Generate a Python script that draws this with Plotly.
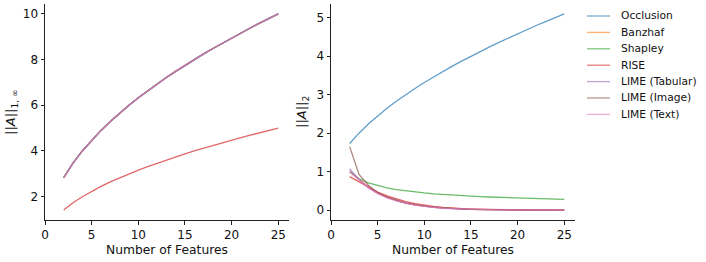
import plotly.graph_objects as go

features = list(range(2, 26))

methods = ["Occlusion", "Banzhaf", "Shapley", "RISE", "LIME (Tabular)", "LIME (Image)", "LIME (Text)"]
colors = ["#1f77b4", "#ff7f0e", "#2ca02c", "#d62728", "#9467bd", "#8c564b", "#e377c2"]

# left panel: ||A||_{1,inf}
upper_norm = [2.828, 3.464, 4.0, 4.472, 4.899, 5.292, 5.657, 6.0, 6.325, 6.633, 6.928, 7.211,
              7.483, 7.746, 8.0, 8.246, 8.485, 8.718, 8.944, 9.165, 9.381, 9.592, 9.798, 10.0]
rise_norm_inf = [1.414, 1.732, 2.0, 2.236, 2.449, 2.646, 2.828, 3.0, 3.162, 3.317, 3.464, 3.606,
                 3.742, 3.873, 4.0, 4.123, 4.243, 4.359, 4.472, 4.583, 4.690, 4.796, 4.899, 5.0]
left_values = {
    "Occlusion": upper_norm,
    "Banzhaf": upper_norm,
    "Shapley": upper_norm,
    "RISE": rise_norm_inf,
    "LIME (Tabular)": upper_norm,
    "LIME (Image)": upper_norm,
    "LIME (Text)": upper_norm,
}
# drawing order (bottom to top) for the overlapping lines of the left panel
left_draw_order = ["LIME (Image)", "Occlusion", "Banzhaf", "Shapley", "RISE", "LIME (Tabular)", "LIME (Text)"]

# right panel: ||A||_2
occlusion_l2 = [1.732, 2.0, 2.236, 2.449, 2.646, 2.828, 3.0, 3.162, 3.317, 3.464, 3.606, 3.742,
                3.873, 4.0, 4.123, 4.243, 4.359, 4.472, 4.583, 4.690, 4.796, 4.899, 5.0, 5.099]
banzhaf_l2 = [1.0, 0.79, 0.6, 0.45, 0.34, 0.25, 0.19, 0.14, 0.105, 0.078, 0.058, 0.043,
              0.032, 0.024, 0.018, 0.013, 0.01, 0.007, 0.005, 0.004, 0.003, 0.002, 0.002, 0.001]
shapley_l2 = [1.0, 0.816, 0.707, 0.632, 0.577, 0.535, 0.5, 0.471, 0.447, 0.426, 0.408, 0.392,
              0.378, 0.365, 0.354, 0.343, 0.333, 0.324, 0.316, 0.309, 0.302, 0.295, 0.289, 0.283]
rise_l2 = [0.87, 0.74, 0.60, 0.47, 0.37, 0.29, 0.22, 0.17, 0.13, 0.10, 0.075, 0.055,
           0.04, 0.03, 0.022, 0.016, 0.012, 0.009, 0.007, 0.005, 0.004, 0.003, 0.002, 0.002]
lime_tab_l2 = [1.07, 0.80, 0.59, 0.44, 0.33, 0.25, 0.18, 0.14, 0.10, 0.075, 0.055, 0.04,
               0.03, 0.022, 0.016, 0.012, 0.009, 0.006, 0.005, 0.003, 0.002, 0.002, 0.001, 0.001]
lime_img_l2 = [1.65, 0.93, 0.65, 0.46, 0.34, 0.26, 0.19, 0.14, 0.105, 0.08, 0.06, 0.04,
               0.03, 0.022, 0.016, 0.012, 0.009, 0.006, 0.005, 0.003, 0.002, 0.002, 0.001, 0.001]
lime_txt_l2 = [1.00, 0.78, 0.58, 0.43, 0.32, 0.24, 0.18, 0.13, 0.10, 0.07, 0.05, 0.04,
               0.03, 0.02, 0.015, 0.01, 0.008, 0.006, 0.004, 0.003, 0.002, 0.002, 0.001, 0.001]
right_values = {
    "Occlusion": occlusion_l2,
    "Banzhaf": banzhaf_l2,
    "Shapley": shapley_l2,
    "RISE": rise_l2,
    "LIME (Tabular)": lime_tab_l2,
    "LIME (Image)": lime_img_l2,
    "LIME (Text)": lime_txt_l2,
}

x_ticks = [0, 5, 10, 15, 20, 25]
left_y_ticks = [2, 4, 6, 8, 10]
right_y_ticks = [0, 1, 2, 3, 4, 5]

FONT = "DejaVu Sans"
W, H = 706, 262
ALPHA = 0.7
LEG_ALPHA = 0.6
LW = 1.3
color_of = dict(zip(methods, colors))

fig = go.Figure()
for m in left_draw_order:
    fig.add_trace(go.Scatter(x=features, y=left_values[m], mode="lines", name=m,
                             line=dict(color=color_of[m], width=LW), opacity=ALPHA,
                             xaxis="x", yaxis="y", showlegend=False))
for m in methods:
    fig.add_trace(go.Scatter(x=features, y=right_values[m], mode="lines", name=m,
                             line=dict(color=color_of[m], width=LW), opacity=ALPHA,
                             xaxis="x2", yaxis="y2", showlegend=False))


def px_x(p):
    return p / W


def px_y(p):
    return (H - p) / H


axis_common = dict(showgrid=False, zeroline=False, showline=True, linecolor="#222",
                   linewidth=1, ticks="outside", ticklen=3.5, tickwidth=1, tickcolor="#222",
                   tickfont=dict(family=FONT, size=12, color="#111"), mirror=False,
                   automargin=False)

fig.update_layout(
    width=W, height=H,
    margin=dict(l=0, r=0, t=0, b=0),
    paper_bgcolor="white", plot_bgcolor="white",
    font=dict(family=FONT, color="#111"),
    showlegend=False,
    xaxis=dict(domain=[px_x(45), px_x(289)], range=[0, 26.15], tickvals=x_ticks,
               anchor="y", **axis_common),
    yaxis=dict(domain=[px_y(220), px_y(4)], range=[0.98, 10.43], tickvals=left_y_ticks,
               anchor="x", **axis_common),
    xaxis2=dict(domain=[px_x(331), px_x(575)], range=[0, 26.15], tickvals=x_ticks,
                anchor="y2", **axis_common),
    yaxis2=dict(domain=[px_y(220), px_y(4)], range=[-0.255, 5.355], tickvals=right_y_ticks,
                anchor="x2", **axis_common),
)

# axis titles as annotations
titles = [
    dict(text="Number of Features", x=px_x(167), y=px_y(250), textangle=0, size=12.3),
    dict(text="Number of Features", x=px_x(453), y=px_y(250), textangle=0, size=12.3),
    dict(text="||<i>A</i>||<sub>1, ∞</sub>", x=px_x(11), y=px_y(112), textangle=-90, size=13),
    dict(text="||<i>A</i>||<sub>2</sub>", x=px_x(302), y=px_y(112), textangle=-90, size=13),
]
for t in titles:
    fig.add_annotation(text=t["text"], x=t["x"], y=t["y"], xref="paper", yref="paper",
                       xanchor="center", yanchor="middle", showarrow=False,
                       textangle=t["textangle"], font=dict(family=FONT, size=t["size"], color="#111"))

# manual legend
LEG_X0, LEG_X1, LEG_TX = 587, 610, 619
LEG_Y0, LEG_DY = 16, 16.4
for i, m in enumerate(methods):
    yy = LEG_Y0 + i * LEG_DY
    fig.add_shape(type="line", xref="paper", yref="paper",
                  x0=px_x(LEG_X0), x1=px_x(LEG_X1), y0=px_y(yy), y1=px_y(yy),
                  line=dict(color=color_of[m], width=LW), opacity=LEG_ALPHA)
    fig.add_annotation(text=m, x=px_x(LEG_TX), y=px_y(yy), xref="paper", yref="paper",
                       xanchor="left", yanchor="middle", showarrow=False,
                       font=dict(family=FONT, size=10.7, color="#111"))

fig.write_html("out.html", config={"displayModeBar": False},
               post_script="document.body.style.margin='0px';")
